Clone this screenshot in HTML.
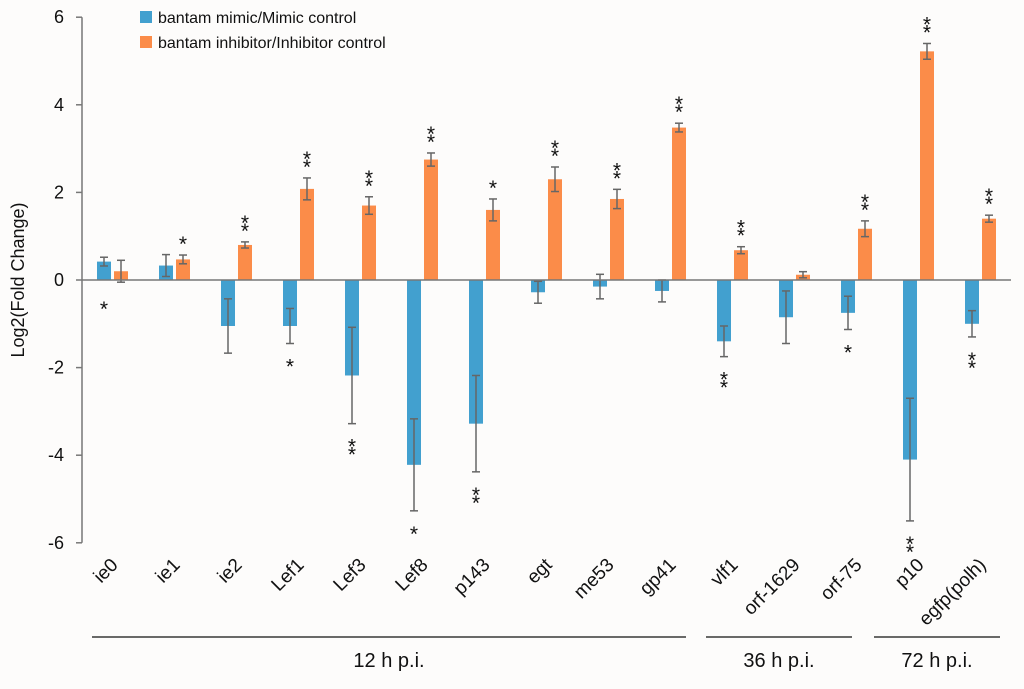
<!DOCTYPE html>
<html><head><meta charset="utf-8"><style>
body{margin:0;background:#fdfcfb;}
svg{font-family:"Liberation Sans",sans-serif;}
</style></head><body>
<svg id="c" width="1024" height="684"></svg>
<script>
const categories=["ie0","ie1","ie2","Lef1","Lef3","Lef8","p143","egt","me53","gp41","vlf1","orf-1629","orf-75","p10","egfp(polh)"];
const mimicVals=[0.42,0.33,-1.05,-1.05,-2.18,-4.22,-3.28,-0.28,-0.15,-0.25,-1.4,-0.85,-0.75,-4.1,-1.0];
const mimicErr=[0.1,0.25,0.62,0.4,1.1,1.05,1.1,0.25,0.28,0.25,0.35,0.6,0.38,1.4,0.3];
const inhVals=[0.2,0.47,0.8,2.08,1.7,2.75,1.6,2.3,1.85,3.48,0.68,0.12,1.17,5.22,1.4];
const inhErr=[0.25,0.1,0.07,0.25,0.2,0.15,0.25,0.28,0.22,0.1,0.08,0.07,0.18,0.18,0.08];
const mimicStars=[1,0,0,1,2,1,2,0,0,0,2,0,1,2,2];
const inhStars=[0,1,2,2,2,2,1,2,2,2,2,0,2,2,2];
const yTicks=[6,4,2,0,-2,-4,-6];
const groupLabels=["12 h p.i.","36 h p.i.","72 h p.i."];
const groupStart=[0,10,13];
const groupEnd=[9,12,14];
const NS="http://www.w3.org/2000/svg",svg=document.getElementById('c');
const y=v=>280-v*43.8;
const xo=i=>121+62*i, xb=i=>104+62*i;
const padL=[12,18,36], padR=[7,-13,11];
function mk(t,a,txt){const e=document.createElementNS(NS,t);for(const k in a)e.setAttribute(k,a[k]);if(txt!==undefined)e.textContent=txt;svg.appendChild(e);return e;}
let e=mk('line',{x1:82,y1:y(6),x2:82,y2:y(-6),stroke:'#777','stroke-width':1.5});

yTicks.forEach(t=>{
 let l=mk('line',{x1:76,x2:82,y1:y(t),y2:y(t),stroke:'#777','stroke-width':1.5});
 
 let tx=mk('text',{x:64,y:y(t)+6,'text-anchor':'end','font-size':18,fill:'#111'},t);
 
});
e=mk('text',{x:24,y:280,'text-anchor':'middle','font-size':18,fill:'#111',transform:'rotate(-90 24 280)'},'Log2(Fold Change)');

function bar(cx,v,er,col,name){
 let r=mk('rect',{x:cx-7,y:Math.min(y(v),y(0)),width:14,height:Math.abs(y(v)-y(0)),fill:col});
 
 const g='#666';
 let a=mk('line',{x1:cx,x2:cx,y1:y(v-er),y2:y(v+er),stroke:g,'stroke-width':1.5});
 
 [v-er,v+er].forEach(w=>{let c=mk('line',{x1:cx-4,x2:cx+4,y1:y(w),y2:y(w),stroke:g,'stroke-width':1.5});
 });
}
function star(cx,yy,n){
 for(let k=0;k<n;k++){let s=mk('text',{x:cx,y:yy+k*8,'text-anchor':'middle','font-size':21,fill:'#111'},'*');
 }
}
categories.forEach((c,i)=>{
 bar(xb(i),mimicVals[i],mimicErr[i],'#42a0cf','bar-mimic-'+c);
 bar(xo(i),inhVals[i],inhErr[i],'#fb8c49','bar-inhibitor-'+c);
 if(inhStars[i]){const n=inhStars[i];star(xo(i),y(inhVals[i]+inhErr[i])-4-(n-1)*8,n);}
 if(mimicStars[i]){const n=mimicStars[i];const base=mimicVals[i]<0?y(mimicVals[i]-mimicErr[i])+30:y(0)+36;star(xb(i),base,n);}
 let t=mk('text',{x:0,y:0,'text-anchor':'end','font-size':19,fill:'#111',transform:`translate(${xo(i)-2},${566}) rotate(-45)`},c);
 
});
e=mk('line',{x1:82,x2:1011,y1:y(0),y2:y(0),stroke:'#777','stroke-width':1.5});

groupLabels.forEach((g,k)=>{
 const x1=xb(groupStart[k])-padL[k],x2=xo(groupEnd[k])+padR[k];
 let l=mk('line',{x1:x1,x2:x2,y1:637,y2:637,stroke:'#111','stroke-width':1.2});
 
 let t=mk('text',{x:(x1+x2)/2,y:667,'text-anchor':'middle','font-size':20,fill:'#111'},g);
 
});
[["#42a0cf","bantam mimic/Mimic control",17],["#fb8c49","bantam inhibitor/Inhibitor control",42]].forEach(L=>{
 let r=mk('rect',{x:140,y:L[2]-6,width:12,height:12,fill:L[0]});
 
 let t=mk('text',{x:158,y:L[2]+6,'font-size':16,fill:'#111'},L[1]);
 
});
</script>
</body></html>
